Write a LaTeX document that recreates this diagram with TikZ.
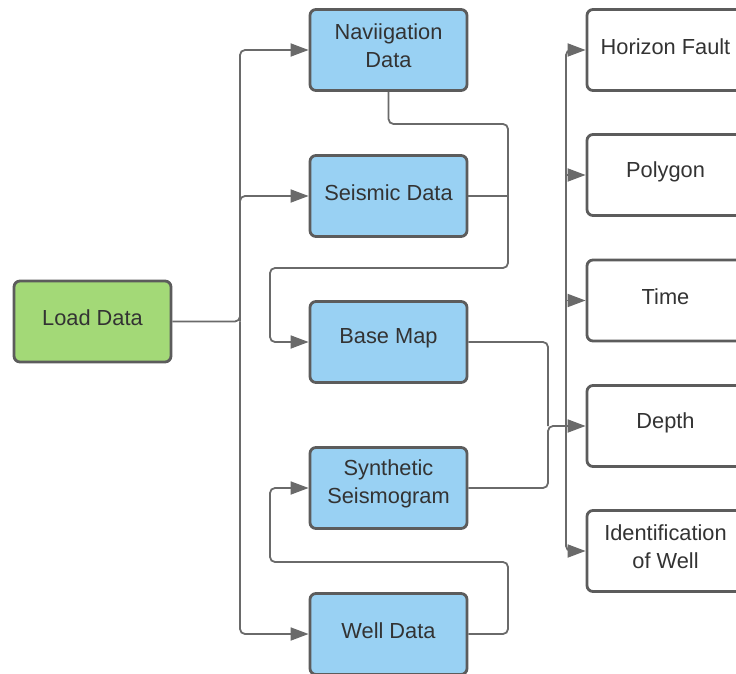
\documentclass[tikz,border=0pt]{standalone}
\usepackage{fontspec}
\setmainfont{Liberation Sans}
\usetikzlibrary{arrows.meta}
\definecolor{boxline}{HTML}{5C5C5C}
\definecolor{wireline}{HTML}{6A6A6A}
\definecolor{txt}{HTML}{333333}
\definecolor{loadfill}{HTML}{A3D977}
\definecolor{datafill}{HTML}{99D1F3}
\tikzset{
  box/.style={draw=boxline, line width=2.8pt, rounded corners=6pt,
    minimum width=157pt, minimum height=81pt, inner sep=0pt},
  loadbox/.style={box, fill=loadfill},
  databox/.style={box, fill=datafill},
  outbox/.style={box, fill=white},
  lbl/.style={align=center, text=txt, inner sep=0pt,
    font=\fontsize{21.8}{28}\selectfont},
  wire/.style={draw=wireline, line width=1.8pt, rounded corners=5pt},
  arrow/.style={wire, -{Triangle[length=18pt,width=13pt]}},
}
\begin{document}
\begin{tikzpicture}[x=1pt,y=-1pt]
\useasboundingbox (0,0) rectangle (736,674);
\clip (0,0) rectangle (736,674);

% source node
\node[loadbox] (load) at (92.5,321.5) {};
\node[lbl] at ([yshift=3.5pt]load.center) {Load Data};

% data nodes
\node[databox] (nav)   at (388.5,50)  {};
\node[databox] (seis)  at (388.5,196) {};
\node[databox] (base)  at (388.5,342) {};
\node[databox] (synth) at (388.5,488) {};
\node[databox] (well)  at (388.5,634) {};
\node[lbl] at ([yshift=4.5pt]nav.center)   {Naviigation\\Data};
\node[lbl] at ([yshift=3.5pt]seis.center)  {Seismic Data};
\node[lbl] at ([yshift=3.5pt]base.center)  {Base Map};
\node[lbl] at ([yshift=4.5pt]synth.center) {Synthetic\\Seismogram};
\node[lbl] at ([yshift=3.5pt]well.center)  {Well Data};

% output nodes
\node[outbox] (hor)   at (665.5,50)    {};
\node[outbox] (poly)  at (665.5,175)   {};
\node[outbox] (time)  at (665.5,300.5) {};
\node[outbox] (depth) at (665.5,426)   {};
\node[outbox] (ident) at (665.5,551)   {};
\node[lbl] at ([yshift=3.5pt]hor.center)   {Horizon Fault};
\node[lbl] at ([yshift=3.5pt]poly.center)  {Polygon};
\node[lbl] at ([yshift=3.5pt]time.center)  {Time};
\node[lbl] at ([yshift=3.5pt]depth.center) {Depth};
\node[lbl] at ([yshift=4.5pt]ident.center) {Identification\\of Well};

% junction points
\coordinate (lbus) at (240,321.5);
\coordinate (navdown) at (388.5,124);
\coordinate (upper) at (508,268);
\coordinate (lower) at (508,562);
\coordinate (merge) at (548,426);
\coordinate (rbus) at (566,426);

% load data fans out
\draw[arrow] (load.east) -- (lbus) |- (nav.west);
\draw[arrow] (lbus) |- (seis.west);
\draw[arrow] (lbus) |- (well.west);

% navigation + seismic feed the base map
\draw[arrow] (nav.south) -- (navdown) -| (upper) -| (270,342) -- (base.west);
\draw[wire] (seis.east) -- (508,196);

% well data feeds the synthetic seismogram
\draw[arrow] (well.east) -| (lower) -| (270,488) -- (synth.west);

% base map + synthetic merge
\draw[wire] (base.east) -| (merge);
\draw[wire] (synth.east) -| (merge) -- (rbus);

% right-hand bus
\draw[arrow] (rbus) |- (hor.west);
\draw[arrow] (rbus) |- (ident.west);
\draw[arrow] (566,175) -- (poly.west);
\draw[arrow] (566,300.5) -- (time.west);
\draw[arrow] (rbus) -- (depth.west);
\end{tikzpicture}
\end{document}
